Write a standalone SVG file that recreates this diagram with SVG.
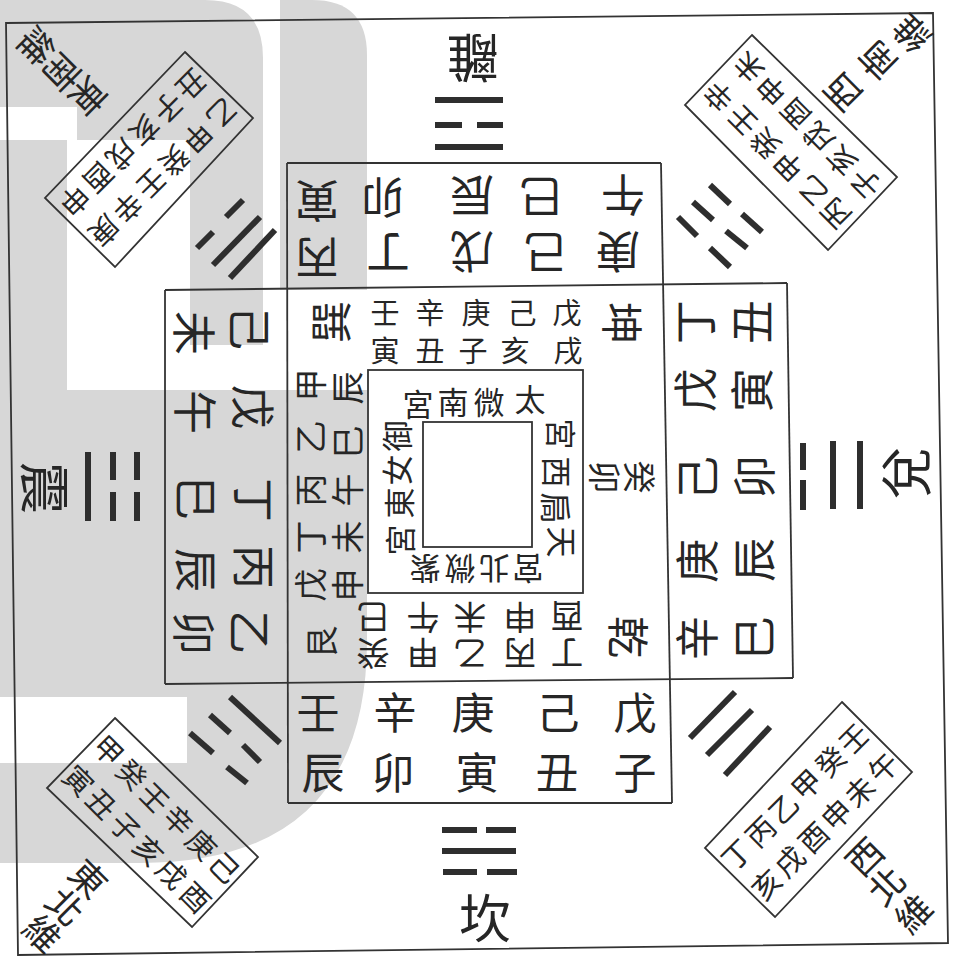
<svg xmlns="http://www.w3.org/2000/svg" width="962" height="965" viewBox="0 0 962 965">
<style>
.t{font-family:"Noto Sans CJK TC","Noto Sans CJK SC",sans-serif;fill:#262626;text-anchor:middle;dominant-baseline:central}
.big{font-size:52px}
.lab{font-size:36px}
.cb{font-size:29px}
.ring{font-size:44px}
.ringb{font-size:43px}
.cr{font-size:33px}
.crt{font-size:29px}
.gua{font-size:42px}
.in{font-size:31px}
.ln{stroke:#333;stroke-width:1.8;fill:none}
.yao{stroke:#2e2e2e;stroke-width:6;stroke-linecap:butt}
</style>
<rect x="0" y="0" width="962" height="965" fill="#fff"/>
<g id="watermark" fill="#d7d7d7">
<path d="M0,0 H205 Q263,0 263,58 V345 H190 V140 H77 V107 H0 Z"/>
<rect x="0" y="140" width="67" height="557"/>
<path d="M280,0 H312 Q367,0 367,55 V290 H280 Z"/>
<path d="M0,390 H367 V640 Q367,863 140,863 H0 V763 H187 V697 H0 Z"/>
</g>
<g id="frame">
<polygon class="ln" points="6,23 933,13 948,943 18,955"/>
</g>
<g id="connectors">
<line class="ln" x1="287" y1="163" x2="661" y2="163"/>
<line class="ln" x1="287" y1="163" x2="288" y2="803"/>
<line class="ln" x1="661" y1="163" x2="672" y2="803"/>
<line class="ln" x1="165" y1="290" x2="787" y2="283"/>
<line class="ln" x1="165" y1="684" x2="793" y2="678"/>
<line class="ln" x1="288" y1="803" x2="672" y2="803"/>
<line class="ln" x1="165" y1="290" x2="165" y2="684"/>
<line class="ln" x1="787" y1="283" x2="793" y2="678"/>
<rect class="ln" x="368" y="370" width="215" height="223"/>
<rect class="ln" x="423" y="422" width="109" height="125"/>
<polygon class="ln" points="185,52 253,118 115,267 45,198"/>
<polygon class="ln" points="752,35 897,177 828,250 685,105"/>
<polygon class="ln" points="842,702 912,772 775,917 705,848"/>
<polygon class="ln" points="115,718 258,857 192,927 47,788"/>
</g>
<g id="trigram-li">
<line class="yao" x1="435" y1="100" x2="503" y2="100"/>
<line class="yao" x1="435" y1="125" x2="462" y2="125"/>
<line class="yao" x1="477" y1="125" x2="503" y2="125"/>
<line class="yao" x1="435" y1="147" x2="503" y2="147"/>
<text class="t big" transform="translate(473,60) rotate(180)">離</text>
</g>
<g id="trigram-kan">
<line class="yao" x1="442" y1="830" x2="477" y2="830"/>
<line class="yao" x1="486" y1="830" x2="516" y2="830"/>
<line class="yao" x1="442" y1="851" x2="516" y2="851"/>
<line class="yao" x1="443" y1="872" x2="477" y2="872"/>
<line class="yao" x1="487" y1="872" x2="517" y2="872"/>
<text class="t big" transform="translate(485,915)">坎</text>
</g>
<g id="trigram-zhen">
<line class="yao" x1="88" y1="452" x2="88" y2="521"/>
<line class="yao" x1="113" y1="452" x2="113" y2="480"/>
<line class="yao" x1="113" y1="492" x2="113" y2="521"/>
<line class="yao" x1="137" y1="452" x2="137" y2="480"/>
<line class="yao" x1="137" y1="492" x2="137" y2="521"/>
<text class="t big" transform="translate(47,488) rotate(90)">震</text>
</g>
<g id="trigram-dui">
<line class="yao" x1="803" y1="443" x2="803" y2="470"/>
<line class="yao" x1="803" y1="480" x2="803" y2="510"/>
<line class="yao" x1="833" y1="441" x2="833" y2="509"/>
<line class="yao" x1="860" y1="441" x2="860" y2="509"/>
<text class="t big" transform="translate(903,473) rotate(-90)">兌</text>
</g>
<g id="trigram-xun">
<line class="yao" x1="197" y1="248" x2="213" y2="232"/>
<line class="yao" x1="226" y1="217" x2="243" y2="200"/>
<line class="yao" x1="213" y1="265" x2="260" y2="217"/>
<line class="yao" x1="230" y1="278" x2="275" y2="230"/>
</g>
<g id="trigram-kun">
<line class="yao" x1="710" y1="185" x2="730" y2="204"/>
<line class="yao" x1="742" y1="214" x2="762" y2="232"/>
<line class="yao" x1="693" y1="202" x2="713" y2="220"/>
<line class="yao" x1="726" y1="231" x2="747" y2="248"/>
<line class="yao" x1="678" y1="217" x2="697" y2="236"/>
<line class="yao" x1="710" y1="248" x2="730" y2="267"/>
</g>
<g id="trigram-qian">
<line class="yao" x1="690" y1="738" x2="735" y2="692"/>
<line class="yao" x1="707" y1="755" x2="752" y2="710"/>
<line class="yao" x1="725" y1="775" x2="770" y2="727"/>
</g>
<g id="trigram-gen">
<line class="yao" x1="230" y1="697" x2="280" y2="743"/>
<line class="yao" x1="210" y1="715" x2="230" y2="733"/>
<line class="yao" x1="243" y1="745" x2="260" y2="762"/>
<line class="yao" x1="190" y1="733" x2="213" y2="753"/>
<line class="yao" x1="227" y1="767" x2="247" y2="783"/>
</g>
<g id="box-top">
<text class="t ring" transform="translate(317,260) rotate(180)">丙</text>
<text class="t ring" transform="translate(317,203) rotate(180)">寅</text>
<text class="t ring" transform="translate(388,255) rotate(180)">丁</text>
<text class="t ring" transform="translate(383,200) rotate(180)">卯</text>
<text class="t ring" transform="translate(472,254) rotate(180)">戊</text>
<text class="t ring" transform="translate(472,198) rotate(180)">辰</text>
<text class="t ring" transform="translate(546,255) rotate(180)">己</text>
<text class="t ring" transform="translate(541,199) rotate(180)">巳</text>
<text class="t ring" transform="translate(618,254) rotate(180)">庚</text>
<text class="t ring" transform="translate(623,197) rotate(180)">午</text>
</g>
<g id="box-bottom">
<text class="t ringb" transform="translate(635,710)">戊</text>
<text class="t ringb" transform="translate(635,770)">子</text>
<text class="t ringb" transform="translate(558,710)">己</text>
<text class="t ringb" transform="translate(557,770)">丑</text>
<text class="t ringb" transform="translate(473,710)">庚</text>
<text class="t ringb" transform="translate(477,770)">寅</text>
<text class="t ringb" transform="translate(395,710)">辛</text>
<text class="t ringb" transform="translate(393,770)">卯</text>
<text class="t ringb" transform="translate(318,710)">壬</text>
<text class="t ringb" transform="translate(323,770)">辰</text>
</g>
<g id="box-left">
<text class="t ring" transform="translate(252,632) rotate(90)">乙</text>
<text class="t ring" transform="translate(196,633) rotate(90)">卯</text>
<text class="t ring" transform="translate(256,567) rotate(90)">丙</text>
<text class="t ring" transform="translate(198,570) rotate(90)">辰</text>
<text class="t ring" transform="translate(256,500) rotate(90)">丁</text>
<text class="t ring" transform="translate(198,498) rotate(90)">巳</text>
<text class="t ring" transform="translate(255,407) rotate(90)">戊</text>
<text class="t ring" transform="translate(197,412) rotate(90)">午</text>
<text class="t ring" transform="translate(252,328) rotate(90)">己</text>
<text class="t ring" transform="translate(196,333) rotate(90)">未</text>
</g>
<g id="box-right">
<text class="t ring" transform="translate(693,322) rotate(-90)">丁</text>
<text class="t ring" transform="translate(750,322) rotate(-90)">丑</text>
<text class="t ring" transform="translate(693,390) rotate(-90)">戊</text>
<text class="t ring" transform="translate(750,390) rotate(-90)">寅</text>
<text class="t ring" transform="translate(695,478) rotate(-90)">己</text>
<text class="t ring" transform="translate(752,477) rotate(-90)">卯</text>
<text class="t ring" transform="translate(695,561) rotate(-90)">庚</text>
<text class="t ring" transform="translate(752,560) rotate(-90)">辰</text>
<text class="t ring" transform="translate(695,638) rotate(-90)">辛</text>
<text class="t ring" transform="translate(752,638) rotate(-90)">巳</text>
</g>
<g id="center-ring">
<text class="t crt" transform="translate(567,311)">戊</text>
<text class="t crt" transform="translate(568,349)">戌</text>
<text class="t crt" transform="translate(522,311)">己</text>
<text class="t crt" transform="translate(515,349)">亥</text>
<text class="t crt" transform="translate(476,311)">庚</text>
<text class="t crt" transform="translate(473,349)">子</text>
<text class="t crt" transform="translate(430,311)">辛</text>
<text class="t crt" transform="translate(430,349)">丑</text>
<text class="t crt" transform="translate(385,311)">壬</text>
<text class="t crt" transform="translate(385,349)">寅</text>
<text class="t gua" transform="translate(624,323) rotate(90)">坤</text>
<text class="t cr" transform="translate(641,477) rotate(90)">癸</text>
<text class="t cr" transform="translate(606,477) rotate(90)">卯</text>
<text class="t gua" transform="translate(630,637) rotate(90)">乾</text>
<text class="t gua" transform="translate(328,322) rotate(-90)">巽</text>
<text class="t cr" transform="translate(309,385) rotate(-90)">甲</text>
<text class="t cr" transform="translate(346,388) rotate(-90)">辰</text>
<text class="t cr" transform="translate(309,437) rotate(-90)">乙</text>
<text class="t cr" transform="translate(346,442) rotate(-90)">巳</text>
<text class="t cr" transform="translate(309,490) rotate(-90)">丙</text>
<text class="t cr" transform="translate(346,490) rotate(-90)">午</text>
<text class="t cr" transform="translate(309,537) rotate(-90)">丁</text>
<text class="t cr" transform="translate(346,537) rotate(-90)">未</text>
<text class="t cr" transform="translate(309,585) rotate(-90)">戊</text>
<text class="t cr" transform="translate(346,585) rotate(-90)">申</text>
<text class="t cr" transform="translate(320,642) rotate(-90)">艮</text>
<text class="t cr" transform="translate(373,619) rotate(180)">巳</text>
<text class="t cr" transform="translate(373,655) rotate(180)">癸</text>
<text class="t cr" transform="translate(423,619) rotate(180)">午</text>
<text class="t cr" transform="translate(423,655) rotate(180)">甲</text>
<text class="t cr" transform="translate(470,619) rotate(180)">未</text>
<text class="t cr" transform="translate(470,655) rotate(180)">乙</text>
<text class="t cr" transform="translate(520,619) rotate(180)">申</text>
<text class="t cr" transform="translate(520,655) rotate(180)">丙</text>
<text class="t cr" transform="translate(567,618) rotate(180)">酉</text>
<text class="t cr" transform="translate(567,655) rotate(180)">丁</text>
</g>
<g id="inner-square">
<text class="t in" transform="translate(530,397)">太</text>
<text class="t in" transform="translate(489,400)">微</text>
<text class="t in" transform="translate(453,400)">南</text>
<text class="t in" transform="translate(418,402)">宮</text>
<text class="t in" transform="translate(563,542) rotate(90)">天</text>
<text class="t in" transform="translate(557,508) rotate(90)">扃</text>
<text class="t in" transform="translate(558,472) rotate(90)">西</text>
<text class="t in" transform="translate(562,434) rotate(90)">宮</text>
<text class="t in" transform="translate(425,570) rotate(180)">紫</text>
<text class="t in" transform="translate(460,570) rotate(180)">微</text>
<text class="t in" transform="translate(494,570) rotate(180)">北</text>
<text class="t in" transform="translate(528,570) rotate(180)">宮</text>
<text class="t in" transform="translate(395,436) rotate(-90)">御</text>
<text class="t in" transform="translate(395,470) rotate(-90)">女</text>
<text class="t in" transform="translate(397,503) rotate(-90)">東</text>
<text class="t in" transform="translate(398,540) rotate(-90)">宮</text>
</g>
<g id="corner-se">
<text class="t lab" transform="translate(90,98) rotate(135)">東</text>
<text class="t lab" transform="translate(64,74) rotate(135)">南</text>
<text class="t lab" transform="translate(38,48) rotate(135)">維</text>
<text class="t cb" transform="translate(106,232) rotate(135)">庚</text>
<text class="t cb" transform="translate(129,209) rotate(135)">辛</text>
<text class="t cb" transform="translate(153,185) rotate(135)">壬</text>
<text class="t cb" transform="translate(176,162) rotate(135)">癸</text>
<text class="t cb" transform="translate(199,139) rotate(135)">甲</text>
<text class="t cb" transform="translate(223,115) rotate(135)">乙</text>
<text class="t cb" transform="translate(76,202) rotate(135)">申</text>
<text class="t cb" transform="translate(100,179) rotate(135)">酉</text>
<text class="t cb" transform="translate(123,156) rotate(135)">戌</text>
<text class="t cb" transform="translate(146,132) rotate(135)">亥</text>
<text class="t cb" transform="translate(170,109) rotate(135)">子</text>
<text class="t cb" transform="translate(193,86) rotate(135)">丑</text>
</g>
<g id="corner-sw">
<text class="t lab" transform="translate(841,94) rotate(-135)">西</text>
<text class="t lab" transform="translate(876,62) rotate(-135)">南</text>
<text class="t lab" transform="translate(910,35) rotate(-135)">維</text>
<text class="t cb" transform="translate(717,98) rotate(-135)">辛</text>
<text class="t cb" transform="translate(741,122) rotate(-135)">壬</text>
<text class="t cb" transform="translate(764,145) rotate(-135)">癸</text>
<text class="t cb" transform="translate(787,168) rotate(-135)">甲</text>
<text class="t cb" transform="translate(811,192) rotate(-135)">乙</text>
<text class="t cb" transform="translate(834,215) rotate(-135)">丙</text>
<text class="t cb" transform="translate(747,69) rotate(-135)">未</text>
<text class="t cb" transform="translate(770,92) rotate(-135)">申</text>
<text class="t cb" transform="translate(794,115) rotate(-135)">酉</text>
<text class="t cb" transform="translate(817,139) rotate(-135)">戌</text>
<text class="t cb" transform="translate(840,162) rotate(-135)">亥</text>
<text class="t cb" transform="translate(864,185) rotate(-135)">子</text>
</g>
<g id="corner-nw">
<text class="t lab" transform="translate(863,855) rotate(-45)">西</text>
<text class="t lab" transform="translate(885,884) rotate(-45)">北</text>
<text class="t lab" transform="translate(912,912) rotate(-45)">維</text>
<text class="t cb" transform="translate(852,737) rotate(-45)">壬</text>
<text class="t cb" transform="translate(829,760) rotate(-45)">癸</text>
<text class="t cb" transform="translate(805,783) rotate(-45)">甲</text>
<text class="t cb" transform="translate(782,807) rotate(-45)">乙</text>
<text class="t cb" transform="translate(759,830) rotate(-45)">丙</text>
<text class="t cb" transform="translate(735,853) rotate(-45)">丁</text>
<text class="t cb" transform="translate(882,766) rotate(-45)">午</text>
<text class="t cb" transform="translate(858,790) rotate(-45)">未</text>
<text class="t cb" transform="translate(835,813) rotate(-45)">申</text>
<text class="t cb" transform="translate(812,836) rotate(-45)">酉</text>
<text class="t cb" transform="translate(788,860) rotate(-45)">戌</text>
<text class="t cb" transform="translate(765,883) rotate(-45)">亥</text>
</g>
<g id="corner-ne">
<text class="t lab" transform="translate(90,877) rotate(45)">東</text>
<text class="t lab" transform="translate(67,905) rotate(45)">北</text>
<text class="t lab" transform="translate(44,932) rotate(45)">維</text>
<text class="t cb" transform="translate(226,866) rotate(45)">己</text>
<text class="t cb" transform="translate(203,843) rotate(45)">庚</text>
<text class="t cb" transform="translate(180,819) rotate(45)">辛</text>
<text class="t cb" transform="translate(156,796) rotate(45)">壬</text>
<text class="t cb" transform="translate(133,773) rotate(45)">癸</text>
<text class="t cb" transform="translate(110,749) rotate(45)">甲</text>
<text class="t cb" transform="translate(197,896) rotate(45)">酉</text>
<text class="t cb" transform="translate(173,872) rotate(45)">戌</text>
<text class="t cb" transform="translate(150,849) rotate(45)">亥</text>
<text class="t cb" transform="translate(127,826) rotate(45)">子</text>
<text class="t cb" transform="translate(103,802) rotate(45)">丑</text>
<text class="t cb" transform="translate(80,779) rotate(45)">寅</text>
</g>
</svg>
